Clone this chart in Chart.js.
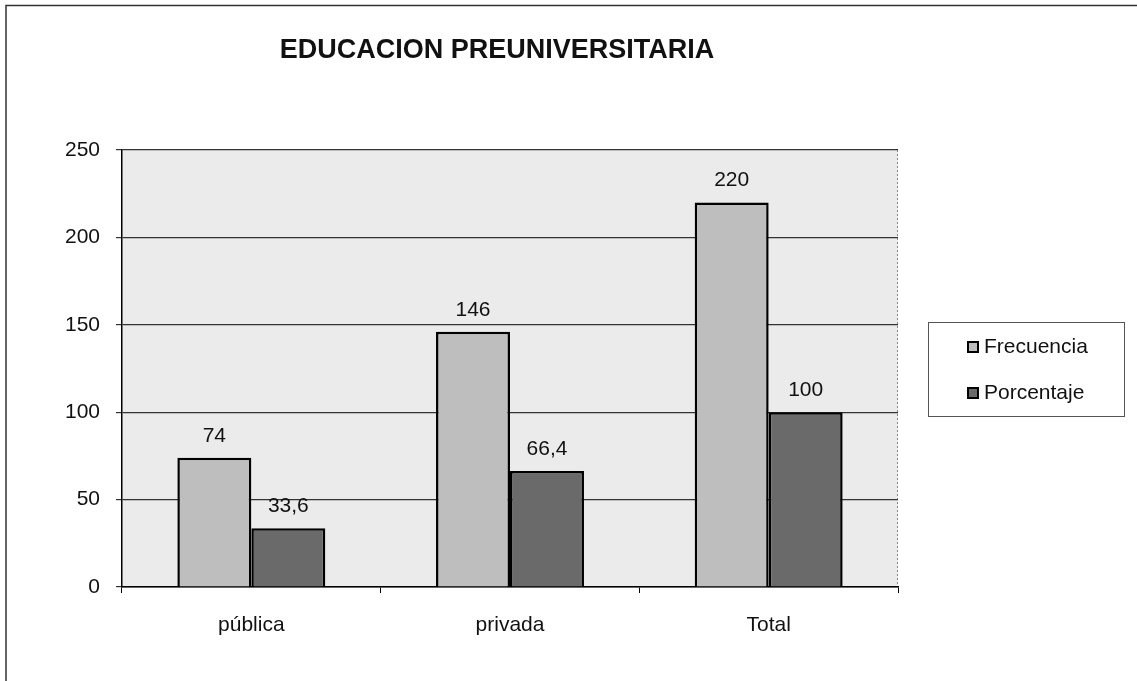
<!DOCTYPE html>
<html>
<head>
<meta charset="utf-8">
<script src="https://cdn.jsdelivr.net/npm/chart.js@4.4.1/dist/chart.umd.min.js"></script>
<style>
  html, body { margin: 0; padding: 0; background: #fff; }
  #wrap { position: relative; width: 1137px; height: 681px; }
</style>
</head>
<body>
<div id="wrap"><canvas id="myChart" width="1137" height="681"></canvas></div>
<script>
const categories = ['pública', 'privada', 'Total'];
const frecuencia = [74, 146, 220];
const porcentaje = [33.6, 66.4, 100];
const yTicks = [0, 50, 100, 150, 200, 250];
const chartTitle = 'EDUCACION PREUNIVERSITARIA';

const FONT = "'Liberation Sans', Arial, sans-serif";

// plot background, frame, title, legend and value labels
const decorations = {
  id: 'decorations',
  beforeDraw(chart) {
    const { ctx, chartArea: a } = chart;
    ctx.save();
    ctx.fillStyle = '#ebebeb';
    ctx.fillRect(a.left, a.top, a.right - a.left, a.bottom - a.top);
    // outer frame (only top and left visible in the scan)
    ctx.strokeStyle = '#333';
    ctx.lineWidth = 1.5;
    ctx.beginPath();
    ctx.moveTo(6, 681);
    ctx.lineTo(6, 5.5);
    ctx.lineTo(1137, 5.5);
    ctx.stroke();
    // dotted right edge of plot area
    ctx.strokeStyle = '#888';
    ctx.lineWidth = 1;
    ctx.setLineDash([2, 2]);
    ctx.beginPath();
    ctx.moveTo(a.right - 0.5, a.top);
    ctx.lineTo(a.right - 0.5, a.bottom);
    ctx.stroke();
    ctx.restore();
  },
  afterDatasetsDraw(chart) {
    const { ctx } = chart;
    ctx.save();
    ctx.font = '21px ' + FONT;
    ctx.fillStyle = '#111';
    ctx.textAlign = 'center';
    ctx.textBaseline = 'alphabetic';
    chart.data.datasets.forEach((ds, i) => {
      chart.getDatasetMeta(i).data.forEach((bar, j) => {
        const txt = String(ds.data[j]).replace('.', ',');
        ctx.fillText(txt, bar.x, bar.y - 16);
      });
    });
    ctx.restore();
  },
  afterDraw(chart) {
    const { ctx } = chart;
    ctx.save();
    // title
    ctx.font = 'bold 27px ' + FONT;
    ctx.fillStyle = '#111';
    ctx.textAlign = 'center';
    ctx.fillText(chartTitle, 497, 58);
    // legend
    ctx.strokeStyle = '#555';
    ctx.lineWidth = 1;
    ctx.strokeRect(928.5, 322.5, 196, 94);
    ctx.font = '21px ' + FONT;
    ctx.textAlign = 'left';
    chart.data.datasets.forEach((ds, i) => {
      const y = 341 + i * 46;
      ctx.fillStyle = ds.backgroundColor;
      ctx.fillRect(967, y, 12, 12);
      ctx.strokeStyle = '#000';
      ctx.lineWidth = 2;
      ctx.strokeRect(968, y + 1, 10, 10);
      ctx.fillStyle = '#111';
      ctx.fillText(ds.label, 984, y + 12);
    });
    ctx.restore();
  }
};

new Chart(document.getElementById('myChart').getContext('2d'), {
  type: 'bar',
  data: {
    labels: categories,
    datasets: [
      {
        label: 'Frecuencia',
        data: frecuencia,
        backgroundColor: '#bebebe',
        borderColor: '#000',
        borderWidth: 2.5,
        categoryPercentage: 0.572,
        barPercentage: 1
      },
      {
        label: 'Porcentaje',
        data: porcentaje,
        backgroundColor: '#6a6a6a',
        borderColor: '#000',
        borderWidth: 2.5,
        categoryPercentage: 0.572,
        barPercentage: 1
      }
    ]
  },
  options: {
    responsive: false,
    animation: false,
    layout: { padding: { left: 0, top: 150, right: 239, bottom: 0 } },
    plugins: {
      legend: { display: false },
      title: { display: false },
      tooltip: { enabled: false }
    },
    scales: {
      x: {
        afterFit: (scale) => { scale.height = 94; },
        grid: { offset: true, drawOnChartArea: false, color: '#000', tickLength: 6 },
        border: { color: '#000', width: 1.5 },
        ticks: { color: '#111', font: { family: FONT, size: 21 }, padding: 20 }
      },
      y: {
        min: yTicks[0],
        max: yTicks[yTicks.length - 1],
        afterFit: (scale) => { scale.width = 122; },
        afterBuildTicks: (scale) => { scale.ticks = yTicks.map(v => ({ value: v })); },
        grid: { color: '#333', lineWidth: 1.2, tickLength: 6 },
        border: { color: '#000', width: 1.5 },
        ticks: { color: '#111', font: { family: FONT, size: 21 }, padding: 16 }
      }
    }
  },
  plugins: [decorations]
});
</script>
</body>
</html>
